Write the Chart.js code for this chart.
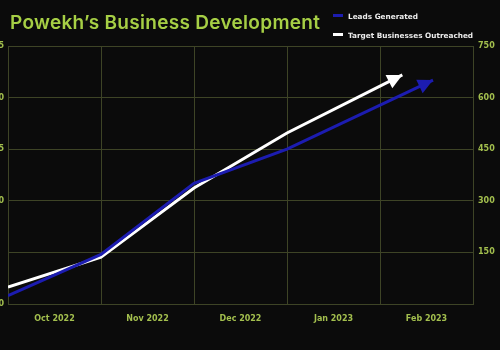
<!DOCTYPE html>
<html>
<head>
<meta charset="utf-8">
<script src="https://cdn.jsdelivr.net/npm/chart.js@4"></script>
<style>
  html, body { margin: 0; padding: 0; background: #0b0b0b; overflow: hidden; }
  #wrap { position: relative; width: 500px; height: 350px; overflow: hidden; }
  #box { position: absolute; left: -20px; top: 0; width: 520px; height: 350px; }
  #title { position: absolute; left: 10px; top: 11px; font: 600 19px Inter, sans-serif;
    color: #a6cf45; letter-spacing: 0.3px; white-space: nowrap; }
  #legend { position: absolute; left: 333px; top: 12px; font: bold 7.3px "DejaVu Sans", sans-serif;
    color: #ececec; }
  #legend div { height: 19px; display: flex; align-items: flex-start; white-space: nowrap; }
  #legend span.sw { display: inline-block; width: 10px; height: 3px; margin: 2px 5px 0 0; }
</style>
</head>
<body>
<div id="wrap">
  <div id="box"><canvas id="c"></canvas></div>
  <div id="title">Powekh’s Business Development</div>
  <div id="legend"></div>
</div>
<script>
const title = "Powekh’s Business Development";
const months = ["Oct 2022", "Nov 2022", "Dec 2022", "Jan 2023", "Feb 2023"];

// lines run along the month boundaries; the last point is the arrow tip
const leadsX = [0, 1, 2, 3, 4.57];
const leads = [0.8, 4.8, 11.7, 15.0, 21.7];          // left axis
const targetsX = [0, 1, 2, 3, 4.24];
const targets = [49, 136, 337, 497, 666];             // right axis

const gridCol = "#3e4426";
const tickCol = "#a3bf4e";

document.getElementById("title").textContent = title;

const pts = (xs, ys) => xs.map((x, i) => ({ x: x, y: ys[i] }));

// arrow heads at the end of each line
const arrows = {
  id: "arrows",
  afterDatasetsDraw(chart) {
    const ctx = chart.ctx;
    chart.data.datasets.forEach((ds, i) => {
      const el = chart.getDatasetMeta(i).data;
      const a = el[el.length - 2], b = el[el.length - 1];
      const ang = Math.atan2(b.y - a.y, b.x - a.x);
      const len = 15, half = 7.5;
      ctx.save();
      ctx.translate(b.x, b.y);
      ctx.rotate(ang);
      ctx.beginPath();
      ctx.moveTo(0, 0);
      ctx.lineTo(-len, -half);
      ctx.lineTo(-len, half);
      ctx.closePath();
      ctx.fillStyle = ds.borderColor;
      ctx.fill();
      ctx.restore();
    });
  }
};

Chart.defaults.font.family = "'DejaVu Sans', sans-serif";
Chart.defaults.font.weight = "bold";
Chart.defaults.font.size = 8;

const chart = new Chart(document.getElementById("c"), {
  type: "line",
  plugins: [arrows],
  data: {
    labels: months,
    datasets: [
      {
        label: "Leads Generated",
        data: pts(leadsX, leads),
        xAxisID: "x2",
        yAxisID: "yL",
        borderColor: "#1c1cb0",
        borderWidth: 3,
        pointRadius: 0,
        tension: 0,
      },
      {
        label: "Target Businesses Outreached",
        data: pts(targetsX, targets),
        xAxisID: "x2",
        yAxisID: "yR",
        borderColor: "#ffffff",
        borderWidth: 3,
        pointRadius: 0,
        tension: 0,
      },
    ],
  },
  options: {
    responsive: true,
    maintainAspectRatio: false,
    animation: false,
    layout: { padding: { top: 46, left: 0, right: 0, bottom: 0 } },
    plugins: {
      legend: { display: false },
      tooltip: { enabled: false },
    },
    scales: {
      x: {
        type: "category",
        offset: true,
        grid: { offset: true, color: gridCol, drawTicks: false },
        border: { color: gridCol },
        ticks: { color: tickCol, padding: 10, maxRotation: 0, autoSkip: false },
        afterFit: (s) => { s.height = 46; },
      },
      x2: {
        type: "linear",
        display: false,
        min: 0,
        max: 5,
      },
      yL: {
        position: "left",
        min: 0,
        max: 25,
        ticks: {
          stepSize: 5,
          color: tickCol,
          padding: 4,
          callback: (v) => (v === 5 ? "" : v),
        },
        grid: { color: gridCol, drawTicks: false },
        border: { color: gridCol },
        afterFit: (s) => { s.width = 28; },
      },
      yR: {
        position: "right",
        min: 0,
        max: 750,
        ticks: {
          stepSize: 150,
          color: tickCol,
          padding: 5,
          callback: (v) => (v === 0 ? "" : v),
        },
        grid: { display: false, drawTicks: false },
        border: { color: gridCol },
        afterFit: (s) => { s.width = 27; },
      },
    },
  },
});

// legend built from the datasets
const leg = document.getElementById("legend");
chart.data.datasets.forEach((ds) => {
  const row = document.createElement("div");
  const sw = document.createElement("span");
  sw.className = "sw";
  sw.style.background = ds.borderColor;
  row.appendChild(sw);
  row.appendChild(document.createTextNode(ds.label));
  leg.appendChild(row);
});
</script>
</body>
</html>
